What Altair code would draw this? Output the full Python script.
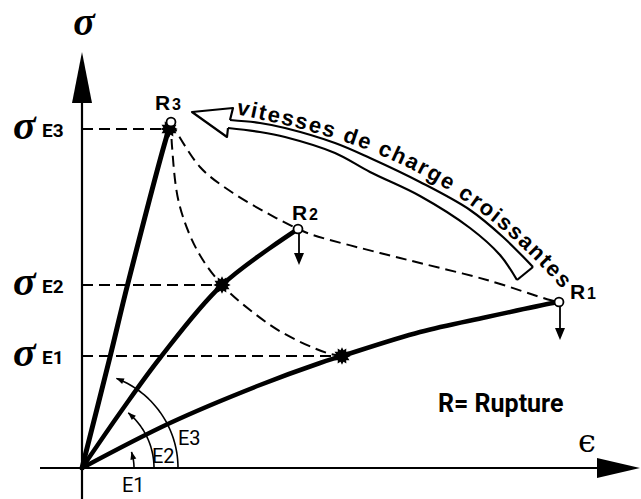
import math
import altair as alt
import numpy as np
import pandas as pd

# Diagram coordinates: origin where the two axes cross, one unit per pixel.
X_DOMAIN = [-82, 559]
Y_DOMAIN = [-31, 468]

# Stress-strain curves for the three loading rates E1 < E2 < E3
curve_E1_x = [0, 88, 178, 238, 260, 338, 405, 471, 477]
curve_E1_y = [0, 45, 83, 105, 112, 136, 151, 165, 166]
curve_E2_x = [0, 40, 78, 140, 216]
curve_E2_y = [0, 58, 110, 183, 239]
curve_E3_x = [0, 28, 46, 87, 89]
curve_E3_y = [0, 111, 185, 339, 344]

# Rupture points R1, R2, R3
rupture_x = [477, 216, 89]
rupture_y = [166, 239, 346]
rupture_id = ["1", "2", "3"]

# Yield stresses sigma_E1..E3 and where they sit on each curve
yield_sigma = [112, 183, 339]
yield_x = [260, 140, 87]
yield_id = ["E1", "E2", "E3"]

# Dashed locus through the rupture points
locus_R_x = [89, 118, 151, 185, 216, 231, 298, 338, 405, 468, 477]
locus_R_y = [346, 301, 275, 255, 239, 233, 215, 205, 188, 168, 166]
# Dashed locus through the yield points
locus_E_x = [89, 90, 97, 115, 140, 168, 201, 245, 260]
locus_E_y = [346, 322, 265, 218, 183, 158, 135, 115, 112]

# Angle arcs at the origin (radius, end angle in degrees)
arc_radius = [52, 72, 96]
arc_end_deg = [18, 50, 69]

# Hollow curved arrow "vitesses de charge croissantes"
arrow_upper_x = [148, 178, 203, 253, 288, 338, 388, 421, 451]
arrow_upper_y = [348, 345, 340, 325, 310, 286, 258, 231, 201]
arrow_lower_x = [146, 178, 203, 253, 288, 338, 388, 418, 435]
arrow_lower_y = [340, 336, 331, 315, 296, 272, 240, 213, 188]
arrow_head_x = [146, 145, 110, 151, 148]
arrow_head_y = [340, 331, 356, 360, 348]
arrow_cap_x = [451, 435]
arrow_cap_y = [201, 188]
text_base_x = [154, 178, 203, 253, 288, 338, 388, 421, 451, 480]
text_base_y = [352, 350, 345, 330, 315, 292, 265, 239, 210, 178]
ARROW_TEXT = "vitesses de charge croissantes"
TEXT_SIZE = 22

SANS = "Liberation Sans"
COND = "Roboto"
SERIF = "Liberation Serif"

xs_scale = alt.Scale(domain=X_DOMAIN, nice=False, zero=False)
ys_scale = alt.Scale(domain=Y_DOMAIN, nice=False, zero=False)


def enc(**extra):
    return dict(x=alt.X("x:Q", scale=xs_scale, axis=None),
                y=alt.Y("y:Q", scale=ys_scale, axis=None), **extra)


def line(xs, ys, width=2.0, dash=None, interp="linear", cap="butt"):
    df = pd.DataFrame({"x": xs, "y": ys, "i": range(len(xs))})
    kw = dict(color="black", strokeWidth=width, interpolate=interp,
              strokeCap=cap, strokeJoin="round")
    if dash:
        kw["strokeDash"] = dash
    return alt.Chart(df).mark_line(**kw).encode(**enc(order="i:Q"))


def label(x, y, txt, size, font=SANS, weight="bold",
          style="normal", align="left", dx=0, dy=0):
    df = pd.DataFrame({"x": [x], "y": [y], "t": [txt]})
    return alt.Chart(df).mark_text(
        font=font, fontSize=size, fontWeight=weight, fontStyle=style,
        align=align, baseline="alphabetic", dx=dx, dy=dy, color="black"
    ).encode(**enc(text="t:N"))


layers = []

# Axes
layers.append(line([0, 0], [-31, 368], width=2.2))
layers.append(line([-42, 520], [0, 0], width=2.2))
tri_y = pd.DataFrame({"x": [-10, 0, 10], "y": [365, 416, 365], "y2": [365] * 3})
layers.append(alt.Chart(tri_y).mark_area(color="black").encode(
    **enc(y2="y2:Q")))
tri_x = pd.DataFrame({"y": [-10, 0, 10], "x": [515, 558, 515], "x2": [515] * 3})
layers.append(alt.Chart(tri_x).mark_area(color="black", orient="horizontal").encode(
    **enc(x2="x2:Q")))

# Dashed yield levels
DASH = [11, 6]
for sig, x_end in zip(yield_sigma, yield_x):
    layers.append(line([0, x_end], [sig, sig], width=2.0, dash=DASH))

# Dashed loci
layers.append(line(locus_R_x, locus_R_y, width=2.0, dash=DASH, interp="catmull-rom"))
layers.append(line(locus_E_x, locus_E_y, width=2.0, dash=DASH, interp="catmull-rom"))

# Angle arcs with small arrowheads
arc_tip_rows = []
for r, a_end in zip(arc_radius, arc_end_deg):
    th = np.radians(np.linspace(0, a_end, 40))
    layers.append(line(list(r * np.cos(th)), list(r * np.sin(th)), width=1.6))
    a_c = math.radians(a_end) - 3.5 / r
    arc_tip_rows.append({"x": r * math.cos(a_c), "y": r * math.sin(a_c),
                         "ang": (360 - math.degrees(a_c)) % 360})
layers.append(alt.Chart(pd.DataFrame(arc_tip_rows)).mark_point(
    shape="M0,-1 L0.75,1 L-0.75,1 Z", size=64, filled=True, color="black",
    opacity=1).encode(**enc(angle=alt.Angle("ang:Q", scale=None))))

# Stress-strain curves
layers.append(line(curve_E1_x, curve_E1_y, width=4.5, interp="catmull-rom", cap="round"))
layers.append(line(curve_E2_x, curve_E2_y, width=4.5, interp="catmull-rom", cap="round"))
layers.append(line(curve_E3_x, curve_E3_y, width=5.0, interp="catmull-rom", cap="round"))

# Yield markers (starbursts)
star_pts = []
for k in range(24):
    rr = 1.0 if k % 2 == 0 else 0.68
    a = k * math.pi / 12 - math.pi / 2
    star_pts.append(f"{rr * math.cos(a):.3f},{rr * math.sin(a):.3f}")
star_path = "M" + " L".join(star_pts) + " Z"
yield_df = pd.DataFrame({"x": yield_x, "y": yield_sigma})
layers.append(alt.Chart(yield_df).mark_point(
    shape=star_path, size=300, filled=True, color="black", opacity=1
).encode(**enc()))

# Downward arrows below R1 and R2
for rx, ry in zip(rupture_x[:2], rupture_y[:2]):
    layers.append(line([rx + 1, rx + 1], [ry - 5, ry - 26], width=1.8))
tri_down = pd.DataFrame({
    "x": [rupture_x[0] - 4, rupture_x[0] + 1, rupture_x[0] + 6,
          rupture_x[1] - 4, rupture_x[1] + 1, rupture_x[1] + 6],
    "y": [rupture_y[0] - 26, rupture_y[0] - 38, rupture_y[0] - 26,
          rupture_y[1] - 24, rupture_y[1] - 36, rupture_y[1] - 24],
    "y2": [rupture_y[0] - 26] * 3 + [rupture_y[1] - 24] * 3,
    "k": ["a"] * 3 + ["b"] * 3,
})
layers.append(alt.Chart(tri_down).mark_area(color="black").encode(
    **enc(y2="y2:Q", detail="k:N")))

# Rupture points (open circles)
rup_df = pd.DataFrame({"x": rupture_x, "y": rupture_y})
layers.append(alt.Chart(rup_df).mark_point(
    shape="circle", size=80, filled=True, fill="white", stroke="black",
    strokeWidth=1.8, opacity=1).encode(**enc()))

# Hollow curved arrow
layers.append(line(arrow_upper_x, arrow_upper_y, width=2.2, interp="catmull-rom"))
layers.append(line(arrow_lower_x, arrow_lower_y, width=2.2, interp="catmull-rom"))
layers.append(line(arrow_head_x, arrow_head_y, width=2.2))
layers.append(line(arrow_cap_x, arrow_cap_y, width=2.2))

# Caption set along the arrow
HB = {"v": 556, "i": 278, "t": 333, "e": 556, "s": 556, " ": 278, "d": 611,
      "c": 556, "h": 611, "a": 556, "r": 389, "g": 611, "o": 611, "n": 611}
coef = np.polyfit(text_base_x, text_base_y, 3)
px = np.linspace(text_base_x[0], text_base_x[-1], 3000)
py = np.polyval(coef, px)
arc_s = np.concatenate([[0], np.cumsum(np.hypot(np.diff(px), np.diff(py)))])
adv = np.array([HB[c] for c in ARROW_TEXT]) * TEXT_SIZE / 1000.0
gap = (arc_s[-1] - adv.sum()) / (len(ARROW_TEXT) - 1)
centers = np.cumsum(adv) - adv / 2 + np.arange(len(ARROW_TEXT)) * gap
cx = np.interp(centers, arc_s, px)
cy = np.polyval(coef, cx)
slope = np.polyval(np.polyder(coef), cx)
ang = np.mod(-np.degrees(np.arctan(slope)), 360)
chars = pd.DataFrame({"x": cx, "y": cy, "ch": list(ARROW_TEXT), "ang": ang})
chars = chars[chars["ch"] != " "]
layers.append(alt.Chart(chars).mark_text(
    font=SANS, fontWeight="bold", fontSize=TEXT_SIZE,
    align="center", baseline="alphabetic", color="black"
).encode(**enc(text="ch:N", angle=alt.Angle("ang:Q", scale=None))))

# Axis titles
layers.append(label(2, 433, "σ", 40, font=SERIF, style="italic", align="center"))
layers.append(label(505, 16, "ϵ", 32, font="DejaVu Serif", weight="normal",
                    align="center"))

# Yield stress labels on the sigma axis
for sig, yid in zip(yield_sigma, yield_id):
    layers.append(label(-69, sig, "σ", 42, font=SERIF, style="italic", dy=10))
    layers.append(label(-40, sig, yid, 19, font=COND, dy=8))

# Rupture labels
r_lab_dx = [11, -6, -16]
r_lab_dy = [3, 9, 12]
for rx, ry, rid, ddx, ddy in zip(rupture_x, rupture_y, rupture_id, r_lab_dx, r_lab_dy):
    layers.append(label(rx + ddx, ry + ddy, "R", 21))
    layers.append(label(rx + ddx + 17, ry + ddy, rid, 16))

# Arc labels
layers.append(label(40, -24, "E1", 20, font=COND, weight="normal"))
layers.append(label(70, 5, "E2", 20, font=COND, weight="normal"))
layers.append(label(96, 23, "E3", 20, font=COND, weight="normal"))

# Legend note
layers.append(label(356, 56, "R= Rupture", 25, font=COND))

chart = alt.layer(*layers).properties(
    width=641, height=499, padding=0, autosize="none", background="white"
).configure_view(stroke=None)

chart.save("out.html", embed_options={"renderer": "svg", "actions": False})
